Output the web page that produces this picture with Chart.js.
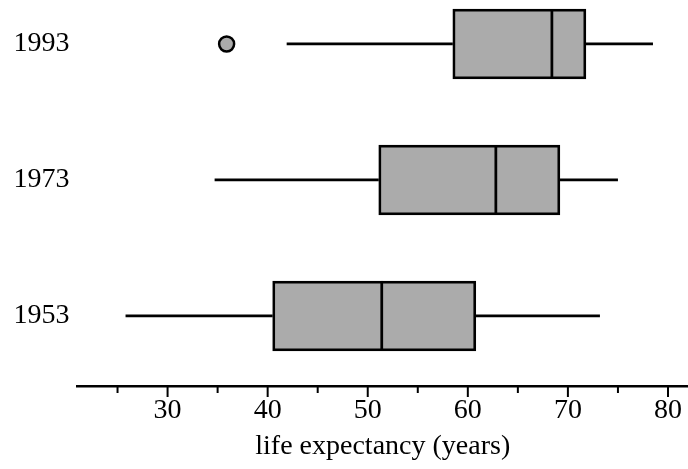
<!DOCTYPE html>
<html lang="en">
<head>
    <meta charset="UTF-8">
    <title>Life expectancy box plot</title>
    <style>
        body {
            margin: 0;
            padding: 0;
            background: #ffffff;
        }
        .chart-box {
            width: 688px;
            height: 469px;
        }
    </style>
</head>
<body>
    <div class="chart-box">
        <canvas id="lifeChart"></canvas>
    </div>

    <script src="https://cdn.jsdelivr.net/npm/chart.js"></script>
    <script>
        // data
        const years = ['1953', '1973', '1993'];
        const whiskerLow = [25.8, 34.7, 41.9];
        const quart1 = [40.5, 51.1, 58.5];
        const medians = [51.4, 62.8, 68.4];
        const quart3 = [60.8, 69.2, 71.8];
        const whiskerHigh = [73.2, 75.0, 78.5];
        const outlierYear = [2];
        const outlierValue = [35.9];
        const xTicks = [25, 30, 35, 40, 45, 50, 55, 60, 65, 70, 75, 80];

        const serif = 'Liberation Serif';

        // no extra room for end labels, the axes go edge to edge
        function noPadding(scale) {
            scale.paddingLeft = 0;
            scale.paddingRight = 0;
            scale.paddingTop = 0;
            scale.paddingBottom = 0;
        }

        // whiskers under the boxes, medians over them
        const boxPlotLines = {
            id: 'boxPlotLines',
            beforeDatasetsDraw(chart) {
                const { ctx, scales: { x, y } } = chart;
                ctx.save();
                ctx.strokeStyle = '#000';
                ctx.lineWidth = 2.75;
                years.forEach((yr, i) => {
                    const py = y.getPixelForValue(i);
                    ctx.beginPath();
                    ctx.moveTo(x.getPixelForValue(whiskerLow[i]), py);
                    ctx.lineTo(x.getPixelForValue(quart1[i]), py);
                    ctx.moveTo(x.getPixelForValue(quart3[i]), py);
                    ctx.lineTo(x.getPixelForValue(whiskerHigh[i]), py);
                    ctx.stroke();
                });
                ctx.restore();
            },
            afterDatasetsDraw(chart) {
                const { ctx, scales: { x } } = chart;
                const bars = chart.getDatasetMeta(0).data;
                ctx.save();
                ctx.strokeStyle = '#000';
                ctx.lineWidth = 2.75;
                bars.forEach((bar, i) => {
                    const px = x.getPixelForValue(medians[i]);
                    ctx.beginPath();
                    ctx.moveTo(px, bar.y - bar.height / 2);
                    ctx.lineTo(px, bar.y + bar.height / 2);
                    ctx.stroke();
                });

                // tick marks under the axis line, the minor ones shorter
                const bottom = chart.chartArea.bottom;
                ctx.lineWidth = 2;
                x.ticks.forEach(t => {
                    const px = x.getPixelForValue(t.value);
                    const len = t.value % 10 === 0 ? 11 : 7;
                    ctx.beginPath();
                    ctx.moveTo(px, bottom);
                    ctx.lineTo(px, bottom + len);
                    ctx.stroke();
                });
                ctx.restore();
            }
        };

        const ctx = document.getElementById('lifeChart').getContext('2d');
        new Chart(ctx, {
            type: 'bar',
            data: {
                datasets: [{
                    type: 'bar',
                    indexAxis: 'y',
                    data: years.map((yr, i) => ({ y: i, x: [quart1[i], quart3[i]] })),
                    backgroundColor: '#ababab',
                    borderColor: '#000',
                    borderWidth: 2.75,
                    borderSkipped: false,
                    barThickness: 70
                }, {
                    type: 'scatter',
                    data: outlierYear.map((yi, i) => ({ x: outlierValue[i], y: yi })),
                    pointRadius: 7.5,
                    pointBackgroundColor: '#ababab',
                    pointBorderColor: '#000',
                    pointBorderWidth: 2.5
                }]
            },
            options: {
                responsive: true,
                maintainAspectRatio: false,
                animation: false,
                layout: { padding: 0, autoPadding: false },
                plugins: {
                    legend: { display: false },
                    tooltip: { enabled: false }
                },
                scales: {
                    x: {
                        type: 'linear',
                        offset: false,
                        min: 21,
                        max: 82,
                        afterBuildTicks: (scale) => {
                            scale.ticks = xTicks.map(v => ({ value: v }));
                        },
                        afterFit: (scale) => {
                            scale.height = 83;
                            noPadding(scale);
                        },
                        grid: { display: false, drawTicks: false, offset: false },
                        border: { display: true, color: '#000', width: 2.5 },
                        ticks: {
                            padding: 8,
                            color: '#000',
                            font: { family: serif, size: 28 },
                            maxRotation: 0,
                            autoSkip: false,
                            callback: (v) => (v % 10 === 0 ? String(v) : '')
                        },
                        title: {
                            display: true,
                            text: 'life expectancy (years)',
                            color: '#000',
                            font: { family: serif, size: 28 },
                            padding: { top: 0, bottom: 6 }
                        }
                    },
                    y: {
                        type: 'linear',
                        offset: false,
                        min: -0.515,
                        max: 2.3235,
                        afterBuildTicks: (scale) => {
                            scale.ticks = years.map((yr, i) => ({ value: i }));
                        },
                        afterFit: (scale) => {
                            scale.width = 77.5;
                            noPadding(scale);
                        },
                        grid: { display: false, drawTicks: false, offset: false },
                        border: { display: false },
                        ticks: {
                            padding: 8,
                            color: '#000',
                            font: { family: serif, size: 28 },
                            callback: (v) => years[v] ?? ''
                        }
                    }
                }
            },
            plugins: [boxPlotLines]
        });
    </script>
</body>
</html>
